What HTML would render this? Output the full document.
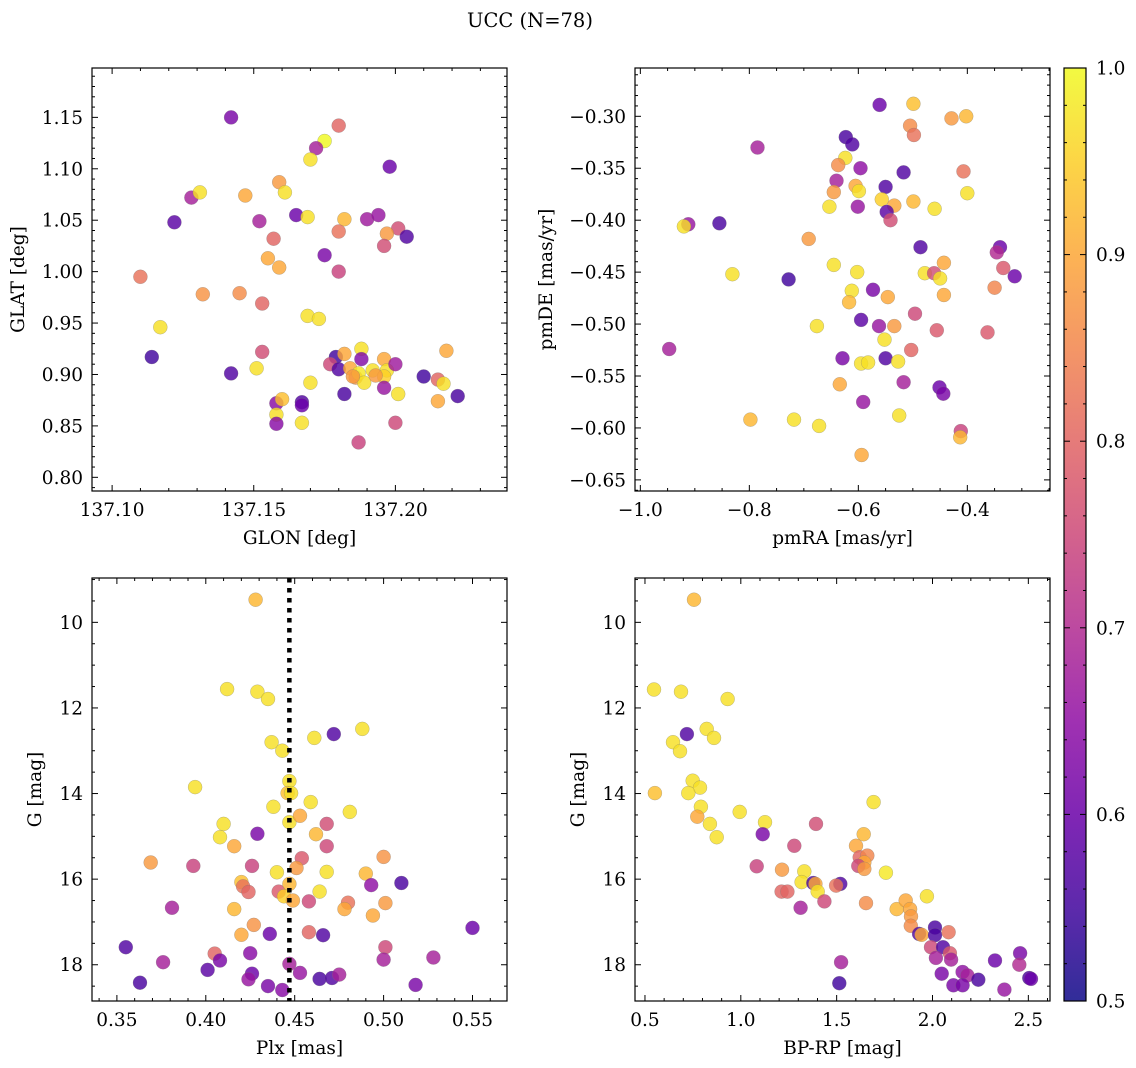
<!DOCTYPE html>
<html><head><meta charset="utf-8"><style>
body{margin:0;background:#fff;}
svg{display:block;font-family:"DejaVu Serif","Liberation Serif",serif;}
</style></head><body>
<svg id="fig" width="1136" height="1068" viewBox="0 0 1136 1068" xmlns="http://www.w3.org/2000/svg">
<defs>
<linearGradient id="plasma" x1="0" y1="1" x2="0" y2="0">
<stop offset="0" stop-color="#0d0887"/><stop offset="0.1" stop-color="#41049d"/><stop offset="0.2" stop-color="#6a00a8"/><stop offset="0.3" stop-color="#8f0da4"/><stop offset="0.4" stop-color="#b12a90"/><stop offset="0.5" stop-color="#cc4778"/><stop offset="0.6" stop-color="#e16462"/><stop offset="0.7" stop-color="#f2844b"/><stop offset="0.8" stop-color="#fca636"/><stop offset="0.9" stop-color="#fcce25"/><stop offset="1" stop-color="#f0f921"/>
</linearGradient>
</defs>
<text x="530" y="27" font-size="19.5" text-anchor="middle">UCC (N=78)</text>
</svg>
<script>
// Panel 1: GLON vs GLAT
const glon=[137.142,137.180,137.175,137.172,137.170,137.198,137.128,137.131,137.122,137.147,137.159,137.161,137.152,137.165,137.169,137.182,137.190,137.194,137.201,137.204,137.197,137.196,137.180,137.157,137.175,137.180,137.155,137.159,137.110,137.132,137.145,137.153,137.169,137.173,137.117,137.114,137.153,137.151,137.142,137.179,137.182,137.188,137.188,137.177,137.180,137.184,137.186,137.187,137.189,137.192,137.196,137.197,137.196,137.200,137.196,137.201,137.182,137.210,137.215,137.217,137.218,137.215,137.222,137.170,137.158,137.160,137.158,137.158,137.167,137.167,137.167,137.200,137.187,137.193,137.185];
const glat=[1.150,1.142,1.127,1.120,1.109,1.102,1.072,1.077,1.048,1.074,1.087,1.077,1.049,1.055,1.053,1.051,1.051,1.055,1.042,1.034,1.037,1.025,1.039,1.032,1.016,1.000,1.013,1.004,0.995,0.978,0.979,0.969,0.957,0.954,0.946,0.917,0.922,0.906,0.901,0.917,0.920,0.925,0.915,0.910,0.905,0.906,0.897,0.901,0.892,0.904,0.915,0.904,0.898,0.910,0.887,0.881,0.881,0.898,0.895,0.891,0.923,0.874,0.879,0.892,0.872,0.876,0.861,0.852,0.873,0.870,0.853,0.853,0.834,0.899,0.898];
const prob1=[0.62,0.80,1.0,0.68,0.97,0.60,0.68,0.97,0.58,0.90,0.88,0.97,0.68,0.60,0.97,0.92,0.67,0.66,0.76,0.57,0.88,0.76,0.82,0.80,0.62,0.74,0.90,0.90,0.82,0.87,0.86,0.80,0.97,0.97,0.97,0.55,0.76,0.97,0.57,0.55,0.90,0.97,0.63,0.75,0.57,0.90,0.88,0.98,0.97,0.97,0.90,0.97,0.95,0.67,0.66,0.97,0.56,0.55,0.80,0.97,0.90,0.90,0.56,0.97,0.64,0.93,0.97,0.64,0.57,0.60,0.97,0.75,0.74,0.88,0.88];
// Panel 2: pmRA vs pmDE
const pmra=[-0.561,-0.499,-0.429,-0.402,-0.505,-0.498,-0.623,-0.611,-0.785,-0.624,-0.637,-0.596,-0.517,-0.407,-0.640,-0.550,-0.605,-0.599,-0.645,-0.400,-0.557,-0.499,-0.534,-0.653,-0.601,-0.460,-0.548,-0.541,-0.912,-0.920,-0.855,-0.691,-0.486,-0.340,-0.346,-0.645,-0.443,-0.334,-0.831,-0.602,-0.728,-0.478,-0.461,-0.450,-0.313,-0.612,-0.573,-0.350,-0.617,-0.546,-0.443,-0.595,-0.496,-0.562,-0.534,-0.676,-0.456,-0.363,-0.552,-0.947,-0.503,-0.629,-0.550,-0.595,-0.582,-0.527,-0.517,-0.634,-0.451,-0.444,-0.591,-0.525,-0.798,-0.718,-0.672,-0.412,-0.413,-0.594];
const pmde=[-0.289,-0.288,-0.302,-0.300,-0.309,-0.318,-0.320,-0.327,-0.330,-0.340,-0.347,-0.350,-0.354,-0.353,-0.362,-0.368,-0.367,-0.372,-0.373,-0.374,-0.380,-0.382,-0.386,-0.387,-0.387,-0.389,-0.392,-0.400,-0.404,-0.406,-0.403,-0.418,-0.426,-0.426,-0.431,-0.443,-0.441,-0.446,-0.452,-0.450,-0.457,-0.451,-0.451,-0.456,-0.454,-0.468,-0.467,-0.465,-0.479,-0.474,-0.472,-0.496,-0.490,-0.502,-0.502,-0.502,-0.506,-0.508,-0.515,-0.524,-0.525,-0.533,-0.533,-0.538,-0.537,-0.536,-0.556,-0.558,-0.561,-0.567,-0.575,-0.588,-0.592,-0.592,-0.598,-0.603,-0.609,-0.626];
const prob2=[0.60,0.93,0.88,0.92,0.86,0.82,0.56,0.57,0.68,0.97,0.86,0.65,0.57,0.82,0.68,0.57,0.90,0.97,0.88,0.97,0.95,0.92,0.90,0.97,0.66,0.97,0.58,0.76,0.66,0.97,0.56,0.88,0.57,0.60,0.70,0.97,0.90,0.78,0.97,0.97,0.55,0.97,0.76,0.97,0.60,0.97,0.62,0.85,0.92,0.90,0.90,0.58,0.75,0.66,0.88,0.97,0.78,0.78,0.97,0.68,0.80,0.62,0.57,0.97,0.97,0.97,0.68,0.90,0.60,0.62,0.66,0.97,0.92,0.97,0.97,0.74,0.92,0.90];
// Panel 3: Plx vs G
const plx=[0.428,0.412,0.429,0.435,0.437,0.443,0.472,0.461,0.488,0.394,0.447,0.446,0.448,0.438,0.459,0.481,0.447,0.453,0.410,0.429,0.408,0.462,0.468,0.416,0.468,0.369,0.393,0.426,0.454,0.451,0.500,0.440,0.468,0.490,0.420,0.421,0.424,0.441,0.447,0.444,0.449,0.464,0.458,0.493,0.510,0.480,0.478,0.501,0.494,0.381,0.416,0.427,0.420,0.436,0.458,0.466,0.550,0.355,0.405,0.408,0.425,0.501,0.500,0.376,0.528,0.401,0.447,0.453,0.426,0.424,0.464,0.471,0.475,0.435,0.443,0.363,0.518];
const gmag3=[9.47,11.56,11.62,11.79,12.80,13.00,12.61,12.70,12.49,13.85,13.71,13.99,13.99,14.31,14.20,14.43,14.67,14.52,14.71,14.94,15.02,14.95,14.71,15.23,15.23,15.61,15.69,15.69,15.51,15.74,15.48,15.84,15.83,15.87,16.07,16.17,16.30,16.29,16.11,16.40,16.50,16.29,16.52,16.14,16.09,16.55,16.70,16.56,16.85,16.67,16.70,17.07,17.30,17.28,17.24,17.31,17.14,17.59,17.74,17.90,17.73,17.59,17.88,17.94,17.83,18.12,17.98,18.19,18.21,18.34,18.33,18.31,18.23,18.50,18.59,18.42,18.47];
const prob3=[0.92,0.97,0.97,0.97,0.97,0.97,0.57,0.97,0.97,0.97,0.97,0.93,0.97,0.97,0.97,0.97,0.97,0.90,0.97,0.62,0.97,0.92,0.76,0.90,0.75,0.88,0.74,0.74,0.78,0.88,0.87,0.97,0.97,0.92,0.93,0.82,0.80,0.78,0.92,0.95,0.90,0.97,0.75,0.65,0.56,0.82,0.90,0.88,0.90,0.68,0.92,0.87,0.90,0.60,0.80,0.57,0.60,0.57,0.80,0.62,0.64,0.75,0.68,0.68,0.68,0.58,0.68,0.66,0.60,0.66,0.56,0.57,0.68,0.62,0.64,0.56,0.62];
const plxLine=[0.447];
// Panel 4: BP-RP vs G
const bprp=[0.756,0.547,0.688,0.931,0.719,0.822,0.860,0.646,0.683,0.552,0.749,0.787,0.726,1.693,0.792,0.773,0.839,0.994,0.874,1.126,1.114,1.392,1.641,1.279,1.601,1.620,1.660,1.644,1.613,1.644,1.083,1.215,1.331,1.757,1.317,1.378,1.389,1.401,1.519,1.497,1.213,1.243,1.436,1.312,1.653,1.971,1.813,1.860,1.883,1.888,1.887,1.930,1.943,2.013,2.013,2.084,1.992,2.055,2.091,2.018,2.097,1.523,1.514,2.048,2.157,2.182,2.109,2.157,2.239,2.326,2.457,2.453,2.375,2.505,2.514];
const gmag4=[9.47,11.57,11.62,11.79,12.61,12.49,12.70,12.80,13.01,13.99,13.70,13.86,13.99,14.20,14.31,14.54,14.71,14.43,15.02,14.67,14.95,14.71,14.95,15.22,15.22,15.49,15.45,15.61,15.69,15.76,15.70,15.78,15.82,15.85,16.07,16.09,16.11,16.29,16.11,16.15,16.29,16.29,16.52,16.67,16.56,16.40,16.70,16.50,16.70,16.87,17.09,17.28,17.30,17.13,17.31,17.24,17.59,17.59,17.73,17.84,17.88,17.94,18.43,18.21,18.17,18.25,18.48,18.48,18.35,17.90,17.73,18.00,18.58,18.31,18.33];
const prob4=[0.92,0.97,0.97,0.97,0.57,0.97,0.97,0.97,0.97,0.93,0.97,0.97,0.97,0.97,0.97,0.90,0.97,0.97,0.97,0.97,0.62,0.76,0.92,0.75,0.90,0.80,0.85,0.90,0.75,0.88,0.74,0.88,0.97,0.98,0.97,0.56,0.90,0.97,0.57,0.82,0.80,0.80,0.75,0.68,0.86,0.97,0.92,0.90,0.90,0.88,0.86,0.57,0.90,0.56,0.56,0.82,0.75,0.57,0.78,0.68,0.68,0.68,0.55,0.62,0.65,0.68,0.62,0.62,0.56,0.60,0.62,0.70,0.66,0.56,0.60];
const cbTicks=[0.5,0.6,0.7,0.8,0.9,1.0];

const NS='http://www.w3.org/2000/svg';
const svg=document.getElementById('fig');
const FS=18.5;
function mk(tag,attrs,parent){const e=document.createElementNS(NS,tag);for(const k in attrs)e.setAttribute(k,attrs[k]);(parent||svg).appendChild(e);return e;}
const stops=['#0d0887','#41049d','#6a00a8','#8f0da4','#b12a90','#cc4778','#e16462','#f2844b','#fca636','#fcce25','#f0f921'];
function hex(h){return [parseInt(h.substr(1,2),16),parseInt(h.substr(3,2),16),parseInt(h.substr(5,2),16)];}
function plasma(p){let t=(p-0.5)/0.5;t=Math.max(0,Math.min(1,t));const f=t*10;const i=Math.min(9,Math.floor(f));const u=f-i;const a=hex(stops[i]),b=hex(stops[i+1]);return 'rgb('+a.map((v,k)=>Math.round(v+(b[k]-v)*u)).join(',')+')';}
function fmt(v,d){return (v<0?'\u2212':'')+Math.abs(v).toFixed(d);}

function panel(cfg){
  const g=mk('g',{});
  
  
  const [L,T,R,B]=cfg.box;
  const sx=v=>L+(v-cfg.xd[0])/(cfg.xd[1]-cfg.xd[0])*(R-L);
  const sy=v=>B-(v-cfg.yd[0])/(cfg.yd[1]-cfg.yd[0])*(B-T);
  const pts=mk('g',{},g);
  
  
  for(let i=0;i<cfg.x.length;i++){
    const c=mk('circle',{cx:sx(cfg.x[i]).toFixed(1),cy:sy(cfg.y[i]).toFixed(1),r:7,fill:plasma(cfg.p[i]),'fill-opacity':0.82,stroke:'#777','stroke-opacity':0.5,'stroke-width':0.5},pts);
    
    
  }
  if(cfg.vline){for(const v of cfg.vline){const ln=mk('line',{x1:sx(v),x2:sx(v),y1:T,y2:B,stroke:'#000','stroke-width':4.5,'stroke-dasharray':'4.5,5.5'},g);
    
    }}
  const ax=mk('g',{stroke:'#000','stroke-width':1},g);
  const frame=mk('rect',{x:L,y:T,width:R-L,height:B-T,fill:'none',stroke:'#000','stroke-width':1.2},ax);
  
  
  const eps=1e-9;
  for(let v=Math.ceil(cfg.xd[0]/cfg.xminor-eps)*cfg.xminor;v<=cfg.xd[1]+eps;v+=cfg.xminor){
    const x=sx(v);const isM=Math.abs(Math.round(v/cfg.xmajor)*cfg.xmajor-v)<cfg.xminor*0.1;const l=isM?6:3;
    mk('line',{x1:x,x2:x,y1:B,y2:B-l},ax);mk('line',{x1:x,x2:x,y1:T,y2:T+l},ax);
  }
  for(const v of cfg.xt){const t=mk('text',{x:sx(v),y:B+25,'font-size':FS,'text-anchor':'middle',stroke:'none',fill:'#000'},g);t.textContent=fmt(v,cfg.xdec);
    
    }
  for(let v=Math.ceil(cfg.yd[0]/cfg.yminor-eps)*cfg.yminor;v<=cfg.yd[1]+eps;v+=cfg.yminor){
    const y=sy(v);const isM=Math.abs(Math.round(v/cfg.ymajor)*cfg.ymajor-v)<cfg.yminor*0.1;const l=isM?6:3;
    mk('line',{x1:L,x2:L+l,y1:y,y2:y},ax);mk('line',{x1:R,x2:R-l,y1:y,y2:y},ax);
  }
  for(const v of cfg.yt){const t=mk('text',{x:L-9,y:sy(v)+6.5,'font-size':FS,'text-anchor':'end',stroke:'none',fill:'#000'},g);t.textContent=cfg.yneg?fmt(-v,cfg.ydec):fmt(v,cfg.ydec);
    
    }
  const xl=mk('text',{x:(L+R)/2,y:B+53,'font-size':FS,'text-anchor':'middle'},g);xl.textContent=cfg.xlabel;
  
  
  const yl=mk('text',{x:0,y:0,'font-size':FS,'text-anchor':'middle',transform:'translate('+cfg.ylx+','+((T+B)/2)+') rotate(-90)'},g);yl.textContent=cfg.ylabel;
  
  
}
panel({name:'glon-glat-panel',box:[92,68,507,491],xd:[137.0929,137.2394],yd:[0.7867,1.198],x:glon,y:glat,p:prob1,xminor:0.01,xmajor:0.05,xt:[137.10,137.15,137.20],xdec:2,yminor:0.01,ymajor:0.05,yt:[0.80,0.85,0.90,0.95,1.00,1.05,1.10,1.15],ydec:2,xlabel:'GLON [deg]',ylabel:'GLAT [deg]',ylx:24});
panel({name:'pm-panel',box:[635,68,1050,491],xd:[-1.0098,-0.2483],yd:[-0.6607,-0.2535],x:pmra,y:pmde,p:prob2,xminor:0.05,xmajor:0.2,xt:[-1.0,-0.8,-0.6,-0.4],xdec:1,yminor:0.01,ymajor:0.05,yt:[-0.65,-0.60,-0.55,-0.50,-0.45,-0.40,-0.35,-0.30],ydec:2,xlabel:'pmRA [mas/yr]',ylabel:'pmDE [mas/yr]',ylx:552});
panel({name:'plx-g-panel',box:[92,578,507,1001],xd:[0.336,0.5694],yd:[-18.847,-8.964],x:plx,y:gmag3.map(v=>-v),p:prob3,xminor:0.01,xmajor:0.05,xt:[0.35,0.40,0.45,0.50,0.55],xdec:2,yminor:0.5,ymajor:2,yt:[-18,-16,-14,-12,-10],ydec:0,yneg:true,xlabel:'Plx [mas]',ylabel:'G [mag]',ylx:41,vline:plxLine});
panel({name:'cmd-panel',box:[635,578,1050,1001],xd:[0.448,2.613],yd:[-18.847,-8.964],x:bprp,y:gmag4.map(v=>-v),p:prob4,xminor:0.1,xmajor:0.5,xt:[0.5,1.0,1.5,2.0,2.5],xdec:1,yminor:0.5,ymajor:2,yt:[-18,-16,-14,-12,-10],ydec:0,yneg:true,xlabel:'BP-RP [mag]',ylabel:'G [mag]',ylx:584});
// colorbar
const cb=mk('g',{});


const cL=1064,cR=1086,cT=68,cB=1001;
const cy=v=>cB-(v-0.5)/0.5*(cB-cT);
mk('rect',{x:cL,y:cT,width:cR-cL,height:cB-cT,fill:'url(#plasma)','fill-opacity':0.85,stroke:'#000','stroke-width':1.2},cb);
for(let v=0.5;v<=1.0001;v+=0.02){const y=cy(v);const isM=Math.abs(Math.round(v*10)/10-v)<0.002;mk('line',{x1:cR,x2:cR-(isM?6:3),y1:y,y2:y,stroke:'#000'},cb);mk('line',{x1:cL,x2:cL+(isM?6:3),y1:y,y2:y,stroke:'#000'},cb);}
for(const v of cbTicks){const t=mk('text',{x:cR+10,y:cy(v)+6.5,'font-size':FS},cb);t.textContent=v.toFixed(1);
  
  }
</script>
</body></html>
